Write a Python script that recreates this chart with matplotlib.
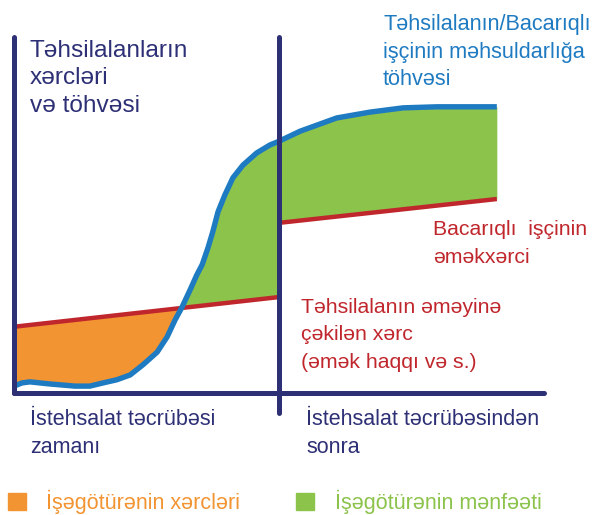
"""Təhsilalanların xərcləri və töhvəsi - sxem qrafiki"""

import matplotlib

matplotlib.use("Agg")
import matplotlib.pyplot as plt
import numpy as np

plt.rcParams["font.family"] = ["Liberation Sans", "DejaVu Sans"]

# bacarıqlı işçinin / təhsilalanın töhvəsi (S-əyri)
blue_x = [0, 1.5, 3.0, 6.8, 11.5, 14.3, 16.8, 19.4, 21.9, 24.3, 27.0, 28.9, 30.4,
          31.7, 33.2, 34.5, 35.5, 36.6, 37.5, 38.5, 39.8, 41.3, 43.2, 45.8, 48.3,
          50.0, 54.0, 60.9, 67.2, 73.4, 79.8, 86.0, 91.1]
blue_y = [1.3, 1.9, 2.1, 1.7, 1.3, 1.3, 1.9, 2.5, 3.4, 5.3, 7.7, 10.6, 13.8,
          16.2, 19.4, 22.3, 24.2, 27.4, 30.4, 34.2, 37.4, 40.6, 43.0, 45.3, 46.8,
          47.5, 49.4, 51.9, 53.0, 53.8, 54.0, 54.0, 54.0]

# əmək xərcləri: təcrübə zamanı və təcrübədən sonra
cost_before_x = [0, 50]
cost_before_y = [12.5, 18.1]
cost_after_x = [50, 91.1]
cost_after_y = [32.1, 36.6]

split_x = 50
axis_end_x = 100
axis_top_y = 67.2

NAVY = "#2e3076"
BLUE = "#1f7bc1"
RED = "#c0272d"
ORANGE = "#f39432"
GREEN = "#8cc34b"

W, H = 594, 515
fig = plt.figure(figsize=(W / 100, H / 100), dpi=100)
ax = fig.add_axes([0, 0, 1, 1])
ax.set_xlim(-14 / 5.3, (W - 14) / 5.3)
ax.set_ylim((393 - H) / 5.3, 393 / 5.3)
ax.axis("off")

bx = np.array(blue_x)
by = np.array(blue_y)

left = bx <= split_x
red_left = np.interp(bx[left], cost_before_x, cost_before_y)
ax.fill_between(bx[left], by[left], red_left, where=red_left >= by[left],
                interpolate=True, color=ORANGE, lw=0, zorder=1)
ax.fill_between(bx[left], by[left], red_left, where=by[left] >= red_left,
                interpolate=True, color=GREEN, lw=0, zorder=1)
right = bx >= split_x
red_right = np.interp(bx[right], cost_after_x, cost_after_y)
ax.fill_between(bx[right], by[right], red_right, color=GREEN, lw=0, zorder=1)

ax.plot(cost_before_x, cost_before_y, color=RED, lw=3.2, solid_capstyle="butt", zorder=2)
ax.plot(cost_after_x, cost_after_y, color=RED, lw=3.2, solid_capstyle="butt", zorder=2)
ax.plot(bx, by, color=BLUE, lw=3.9, solid_capstyle="butt", solid_joinstyle="round", zorder=3)

# oxlar
ax.plot([0, 0], [0, axis_top_y], color=NAVY, lw=3.6, solid_capstyle="round", zorder=4)
ax.plot([0, axis_end_x], [0, 0], color=NAVY, lw=3.6, solid_capstyle="round", zorder=4)
ax.plot([split_x, split_x], [-3.8, axis_top_y], color=NAVY, lw=3.6,
        solid_capstyle="round", zorder=4)


def label(px, baselines, lines, color, size):
    for py, s in zip(baselines, lines):
        fig.text(px / W, 1 - py / H, s, color=color, fontsize=size, va="baseline", ha="left")


label(30, [57, 84, 112], ["Təhsilalanların", "xərcləri", "və töhvəsi"], NAVY, 17.6)
label(383, [30, 58, 85], ["Təhsilalanın/Bacarıqlı", "işçinin məhsuldarlığa", "töhvəsi"], BLUE, 15.6)
label(433, [235, 263], ["Bacarıqlı  işçinin", "əməkxərci"], RED, 15.3)
label(301, [313, 340, 368], ["Təhsilalanın əməyinə", "çəkilən xərc", "(əmək haqqı və s.)"], RED, 15.3)
label(30, [425, 453], ["İstehsalat təcrübəsi", "zamanı"], NAVY, 15.5)
label(306, [425, 453], ["İstehsalat təcrübəsindən", "sonra"], NAVY, 15.5)

# şərti işarələr
fig.patches.append(plt.Rectangle((8 / W, 1 - 510 / H), 18 / W, 17 / H,
                                 transform=fig.transFigure, color=ORANGE))
fig.patches.append(plt.Rectangle((296 / W, 1 - 510 / H), 18 / W, 17 / H,
                                 transform=fig.transFigure, color=GREEN))
label(46, [509], ["İşəgötürənin xərcləri"], ORANGE, 15.5)
label(335, [509], ["İşəgötürənin mənfəəti"], GREEN, 15.5)

fig.savefig("out.png", dpi=100)
